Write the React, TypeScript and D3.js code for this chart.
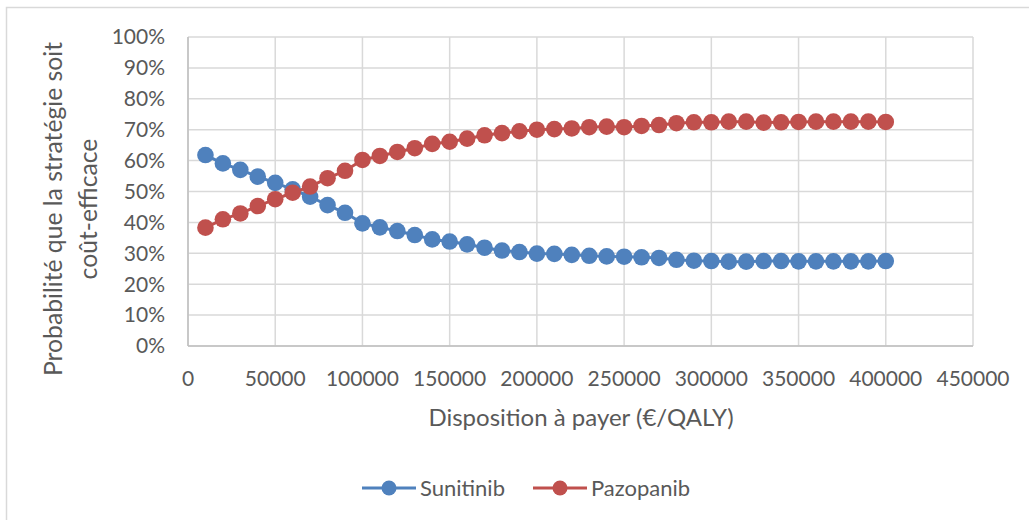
import React, { useEffect, useRef } from 'react';
import * as d3 from 'd3';

// willingness to pay (€/QALY)
const wtp = [
  10000, 20000, 30000, 40000, 50000, 60000, 70000, 80000, 90000, 100000,
  110000, 120000, 130000, 140000, 150000, 160000, 170000, 180000, 190000, 200000,
  210000, 220000, 230000, 240000, 250000, 260000, 270000, 280000, 290000, 300000,
  310000, 320000, 330000, 340000, 350000, 360000, 370000, 380000, 390000, 400000,
];
const sunitinib = [
  61.8, 59.1, 57.0, 54.8, 52.8, 50.7, 48.3, 45.6, 43.1, 39.7,
  38.4, 37.2, 35.9, 34.5, 33.8, 32.9, 31.8, 30.9, 30.4, 29.9,
  29.8, 29.5, 29.2, 29.0, 28.9, 28.7, 28.5, 27.9, 27.6, 27.5,
  27.3, 27.3, 27.5, 27.5, 27.4, 27.4, 27.4, 27.4, 27.4, 27.5,
];
const pazopanib = [
  38.3, 41.0, 42.9, 45.3, 47.5, 49.6, 51.6, 54.3, 56.7, 60.2,
  61.5, 62.8, 64.0, 65.4, 66.1, 67.1, 68.2, 68.9, 69.5, 70.0,
  70.2, 70.4, 70.8, 71.0, 70.8, 71.2, 71.5, 72.1, 72.4, 72.4,
  72.6, 72.6, 72.3, 72.4, 72.5, 72.6, 72.6, 72.6, 72.6, 72.5,
];
const xTicks = [0, 50000, 100000, 150000, 200000, 250000, 300000, 350000, 400000, 450000];
const yTicks = [0, 10, 20, 30, 40, 50, 60, 70, 80, 90, 100];
const seriesNames = ['Sunitinib', 'Pazopanib'];

function App() {
  const ref = useRef<SVGSVGElement>(null);

  useEffect(() => {
    const width = 1029;
    const height = 520;
    const left = 188, right = 973, top = 37, bottom = 346;
    const font = 'Lato, "Open Sans", sans-serif';
    const textColor = '#595959';
    const gridColor = '#d9d9d9';
    const colors = ['#4f81bd', '#c0504d'];

    const svg = d3.select(ref.current)
      .attr('width', width)
      .attr('height', height)
      .attr('viewBox', [0, 0, width, height]);
    svg.selectAll('*').remove();

    svg.append('rect')
      .attr('x', 6.5).attr('y', 7.5)
      .attr('width', width).attr('height', height)
      .attr('fill', '#fff')
      .attr('stroke', gridColor)
      .attr('stroke-width', 1.5);

    const x = d3.scaleLinear([0, 450000], [left, right]);
    const y = d3.scaleLinear([0, 100], [bottom, top]);

    // grid lines
    svg.append('g')
      .selectAll('line.h')
      .data(yTicks)
      .join('line')
      .attr('x1', left).attr('x2', right)
      .attr('y1', d => y(d)).attr('y2', d => y(d))
      .attr('stroke', gridColor)
      .attr('stroke-width', 1.5);
    svg.append('g')
      .selectAll('line.v')
      .data(xTicks)
      .join('line')
      .attr('x1', d => x(d)).attr('x2', d => x(d))
      .attr('y1', top).attr('y2', bottom)
      .attr('stroke', gridColor)
      .attr('stroke-width', 1.5);

    // axis lines
    svg.append('line')
      .attr('x1', left).attr('x2', left).attr('y1', top).attr('y2', bottom)
      .attr('stroke', '#bfbfbf').attr('stroke-width', 1.5);
    svg.append('line')
      .attr('x1', left).attr('x2', right).attr('y1', bottom).attr('y2', bottom)
      .attr('stroke', '#bfbfbf').attr('stroke-width', 1.5);

    // tick labels
    svg.append('g')
      .selectAll('text')
      .data(yTicks)
      .join('text')
      .attr('x', 165)
      .attr('y', d => y(d))
      .attr('dy', '0.35em')
      .attr('text-anchor', 'end')
      .attr('font-family', font)
      .attr('font-size', 21)
      .attr('fill', textColor)
      .text(d => d + '%');
    svg.append('g')
      .selectAll('text')
      .data(xTicks)
      .join('text')
      .attr('x', d => x(d))
      .attr('y', 379)
      .attr('dy', '0.35em')
      .attr('text-anchor', 'middle')
      .attr('font-family', font)
      .attr('font-size', 21)
      .attr('fill', textColor)
      .text(d => String(d));

    // axis titles
    svg.append('text')
      .attr('x', 581)
      .attr('y', 418)
      .attr('dy', '0.35em')
      .attr('text-anchor', 'middle')
      .attr('font-family', font)
      .attr('font-size', 24)
      .attr('fill', textColor)
      .text('Disposition à payer (€/QALY)');
    const yTitle = svg.append('text')
      .attr('transform', `translate(0,209) rotate(-90)`)
      .attr('text-anchor', 'middle')
      .attr('font-family', font)
      .attr('font-size', 24.7)
      .attr('fill', textColor);
    yTitle.append('tspan').attr('x', 0).attr('y', 53).attr('dy', '0.35em').text('Probabilité que la stratégie soit');
    yTitle.append('tspan').attr('x', 0).attr('y', 88).attr('dy', '0.35em').text('coût-efficace');

    // series
    const allSeries = [sunitinib, pazopanib];
    const line = d3.line<number>()
      .x((_, i) => x(wtp[i]))
      .y(d => y(d));
    allSeries.forEach((values, s) => {
      const g = svg.append('g');
      g.append('path')
        .datum(values)
        .attr('d', line)
        .attr('fill', 'none')
        .attr('stroke', colors[s])
        .attr('stroke-width', 3)
        .attr('stroke-linejoin', 'round');
      g.selectAll('circle')
        .data(values)
        .join('circle')
        .attr('cx', (_, i) => x(wtp[i]))
        .attr('cy', d => y(d))
        .attr('r', 8.3)
        .attr('fill', colors[s]);
    });

    // legend
    const legendX = [362, 533];
    const legendY = 488;
    seriesNames.forEach((name, s) => {
      const g = svg.append('g').attr('transform', `translate(${legendX[s]},${legendY})`);
      g.append('line')
        .attr('x1', 0).attr('x2', 54).attr('y1', 0).attr('y2', 0)
        .attr('stroke', colors[s]).attr('stroke-width', 3);
      g.append('circle').attr('cx', 27).attr('cy', 0).attr('r', 7.5).attr('fill', colors[s]);
      g.append('text')
        .attr('x', 58)
        .attr('y', 0)
        .attr('dy', '0.35em')
        .attr('font-family', font)
        .attr('font-size', 22)
        .attr('fill', textColor)
        .text(name);
    });
  }, []);

  return (
    <svg ref={ref} style={{ position: 'absolute', left: 0, top: 0, display: 'block' }}></svg>
  );
}

export default App;
